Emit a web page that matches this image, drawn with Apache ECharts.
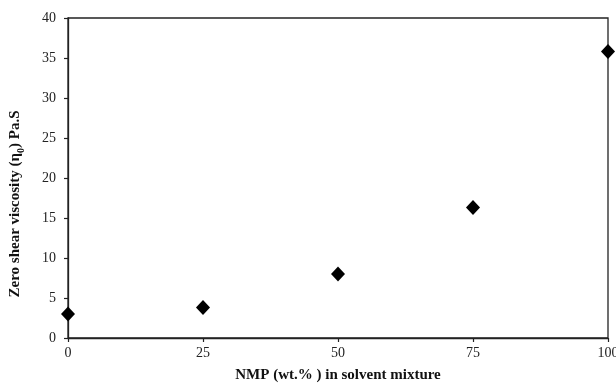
<!DOCTYPE html>
<html>
<head>
<meta charset="utf-8">
<script src="https://cdn.jsdelivr.net/npm/echarts@6/dist/echarts.min.js"></script>
<style>
  html, body { margin: 0; padding: 0; background: #fff; }
  #chart { width: 616px; height: 383px; }
</style>
</head>
<body>
<div id="chart"></div>
<script>
// NMP content of the solvent mixture (wt.%) and zero shear viscosity (Pa.S)
const nmpContent = [0, 25, 50, 75, 100];
const zeroShearViscosity = [3.0, 3.8, 8.0, 16.3, 35.8];

const xTicks = { min: 0, max: 100, interval: 25 };
const yTicks = { min: 0, max: 40, interval: 5 };

const serif = '"Liberation Serif", "Times New Roman", serif';
const axisColor = '#222';

const chart = echarts.init(document.getElementById('chart'), null, { renderer: 'canvas' });

chart.setOption({
  animation: false,
  backgroundColor: '#ffffff',
  grid: {
    left: 68, right: 8, top: 18, bottom: 45,
    show: true, borderColor: axisColor, borderWidth: 1.3,
    containLabel: false,
    outerBoundsMode: 'none'
  },
  xAxis: {
    type: 'value',
    min: xTicks.min, max: xTicks.max, interval: xTicks.interval,
    name: 'NMP (wt.% ) in solvent mixture',
    nameLocation: 'middle',
    nameGap: 30,
    nameTextStyle: { fontFamily: serif, fontSize: 15, fontWeight: 'bold', color: '#111' },
    axisLine: { show: true, onZero: false, lineStyle: { color: axisColor, width: 1.3 } },
    axisTick: { show: true, inside: false, length: 4, lineStyle: { color: axisColor, width: 1.2 } },
    axisLabel: { fontFamily: serif, fontSize: 14, color: '#222', margin: 8 },
    splitLine: { show: false }
  },
  yAxis: {
    type: 'value',
    min: yTicks.min, max: yTicks.max, interval: yTicks.interval,
    name: '{t|Zero shear viscosity (η}{s|0}{t|) Pa.S}',
    nameLocation: 'middle',
    nameGap: 45,
    nameTextStyle: {
      padding: [0, 52, 0, 0],
      rich: {
        t: { fontFamily: serif, fontSize: 15, fontWeight: 'bold', color: '#111', lineHeight: 18, verticalAlign: 'bottom' },
        s: { fontFamily: serif, fontSize: 10, fontWeight: 'bold', color: '#111', lineHeight: 18, verticalAlign: 'bottom', padding: [0, 0, -3, 0] }
      }
    },
    axisLine: { show: true, lineStyle: { color: axisColor, width: 1.3 } },
    axisTick: { show: true, inside: false, length: 4, lineStyle: { color: axisColor, width: 1.2 } },
    axisLabel: { fontFamily: serif, fontSize: 14, color: '#222', margin: 12 },
    splitLine: { show: false }
  },
  series: [{
    type: 'scatter',
    data: nmpContent.map((x, i) => [x, zeroShearViscosity[i]]),
    symbol: 'diamond',
    symbolSize: [14, 15],
    itemStyle: { color: '#000', opacity: 1 },
    clip: false
  }]
});
</script>
</body>
</html>
